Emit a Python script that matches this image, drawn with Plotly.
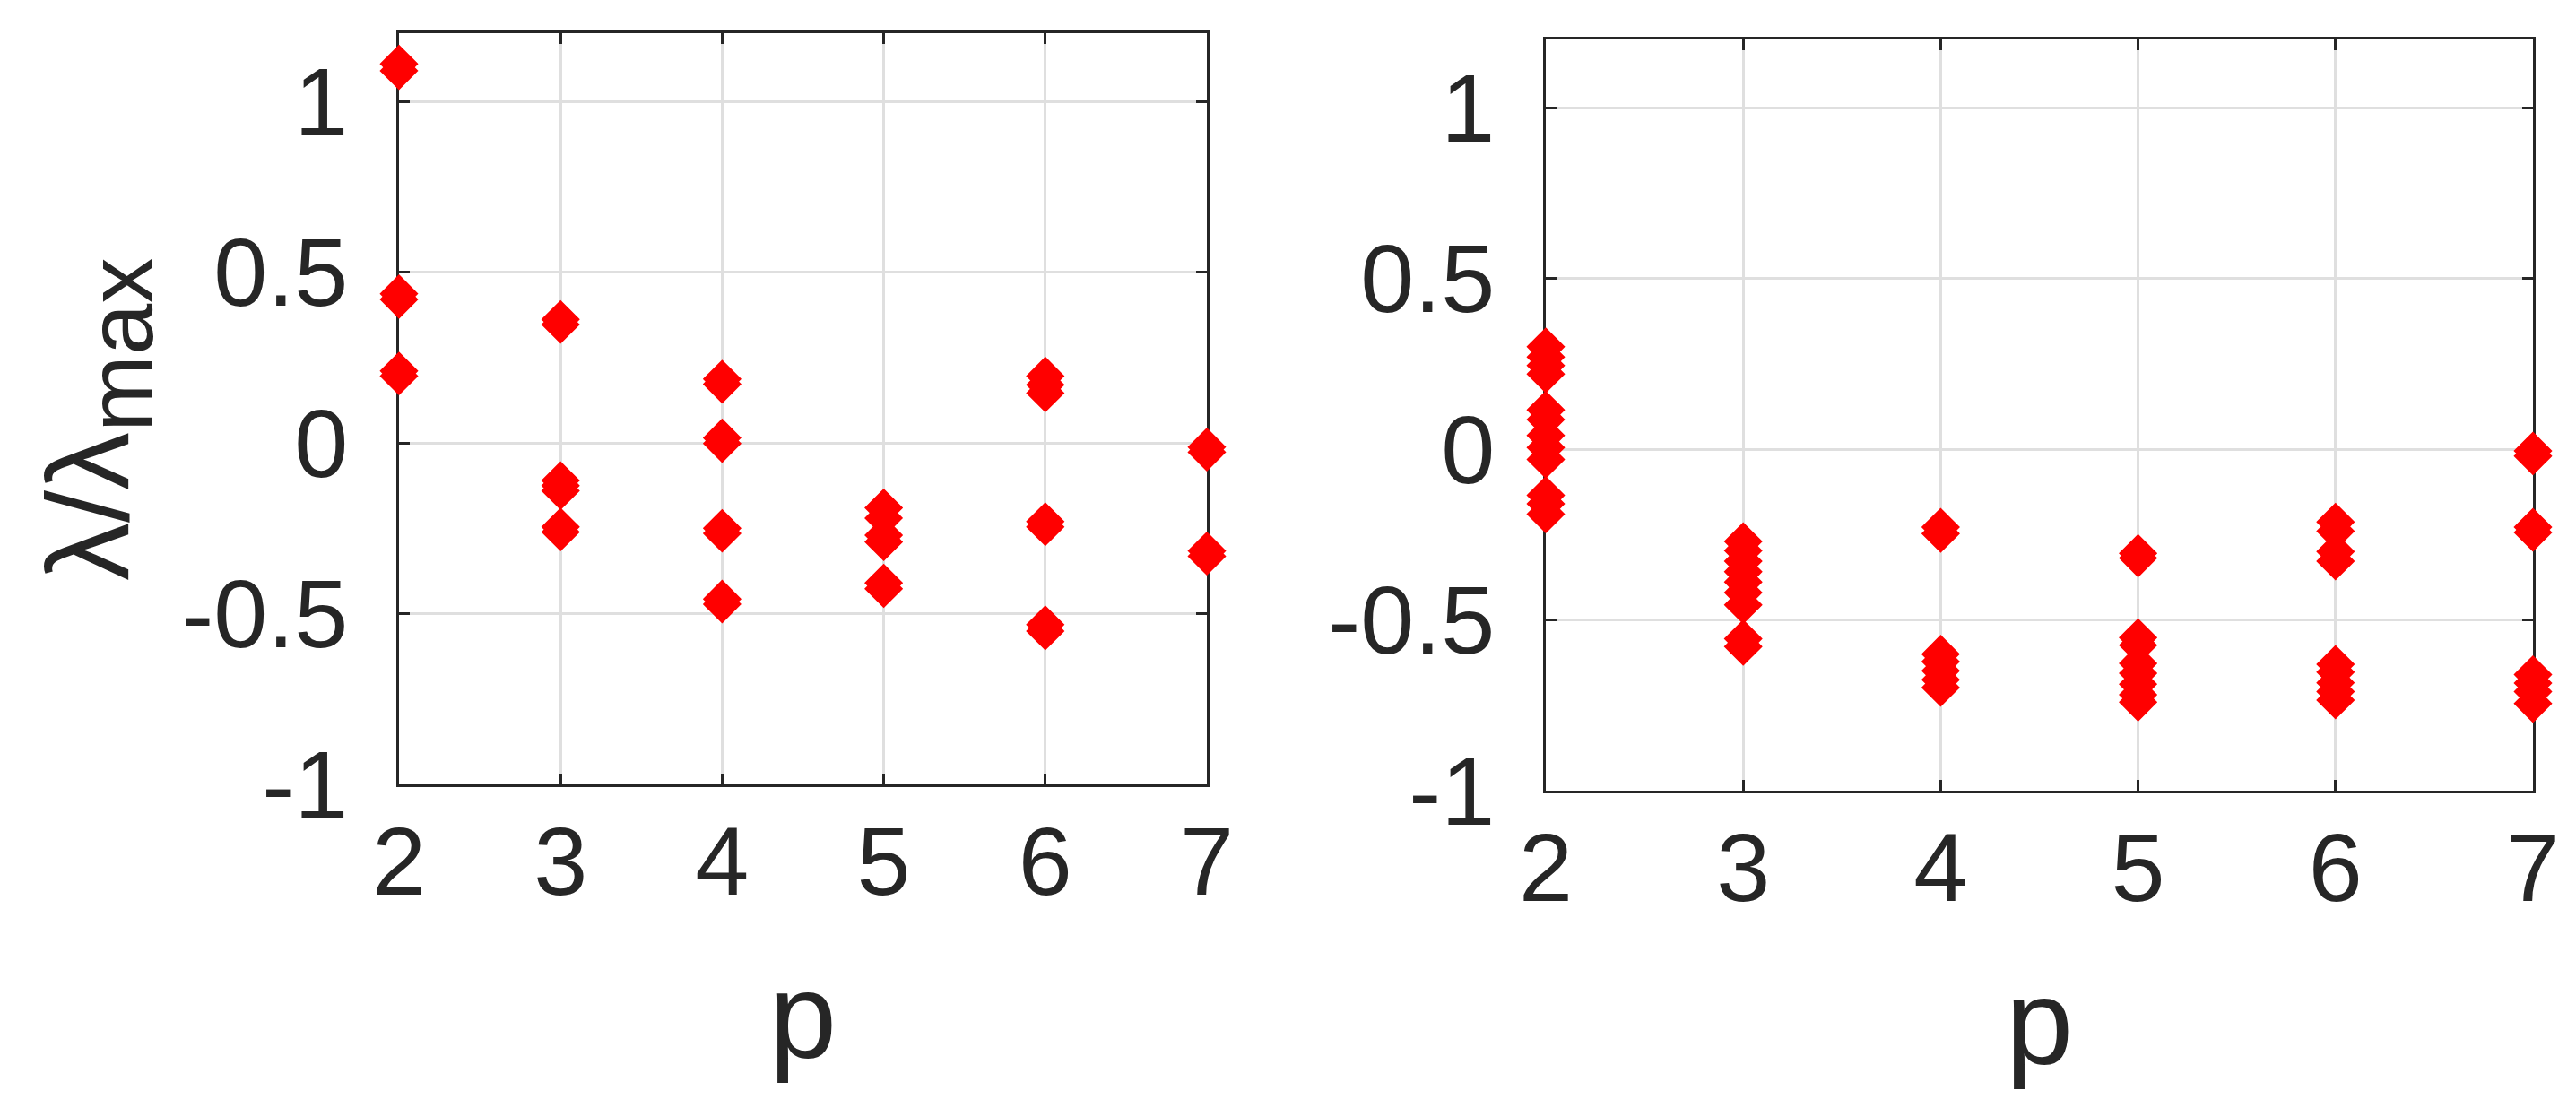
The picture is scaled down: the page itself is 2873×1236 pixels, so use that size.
import plotly.graph_objects as go

# ---- data ----
p_left = [2, 2, 2, 2, 2, 2,
          3, 3, 3, 3, 3, 3, 3,
          4, 4, 4, 4, 4, 4, 4, 4,
          5, 5, 5, 5, 5, 5,
          6, 6, 6, 6, 6, 6, 6,
          7, 7, 7, 7]
lam_left = [1.11, 1.09, 0.437, 0.420, 0.211, 0.196,
            0.362, 0.347, -0.11, -0.125, -0.14, -0.246, -0.261,
            0.187, 0.172, 0.015, -0.002, -0.25, -0.265, -0.457, -0.472,
            -0.19, -0.22, -0.27, -0.29, -0.41, -0.427,
            0.196, 0.17, 0.146, -0.23, -0.246, -0.532, -0.551,
            -0.012, -0.027, -0.316, -0.332]

p_right = [2] * 12 + [3] * 9 + [4] * 7 + [5] * 9 + [6] * 9 + [7] * 8
lam_right = [0.30, 0.27, 0.245, 0.22, 0.115, 0.087, 0.04, 0.005, -0.03, -0.135, -0.16, -0.19,
             -0.27, -0.297, -0.328, -0.359, -0.389, -0.42, -0.456, -0.555, -0.578,
             -0.228, -0.247, -0.60, -0.622, -0.649, -0.675, -0.698,
             -0.305, -0.319, -0.552, -0.574, -0.627, -0.656, -0.688, -0.719, -0.741,
             -0.213, -0.24, -0.30, -0.328, -0.630, -0.653, -0.684, -0.71, -0.735,
             -0.005, -0.02, -0.228, -0.244, -0.66, -0.685, -0.71, -0.745]

x_ticks = [2, 3, 4, 5, 6, 7]
y_ticks = [-1, -0.5, 0, 0.5, 1]
y_tick_text = ["-1", "-0.5", "0", "0.5", "1"]

W, H = 2873, 1236
AX = "#262626"
GRID = "#dfdfdf"
NARROW = "Liberation Sans Narrow, Liberation Sans, Arial, sans-serif"
REG = "Liberation Sans, Arial, sans-serif"
TICKSIZE = 108

fig = go.Figure()
marker = dict(symbol="diamond", size=31, color="#ff0000",
              line=dict(color="#ff0000", width=2))
fig.add_trace(go.Scatter(x=p_left, y=lam_left, mode="markers", marker=marker,
                         cliponaxis=False, xaxis="x", yaxis="y", showlegend=False))
fig.add_trace(go.Scatter(x=p_right, y=lam_right, mode="markers", marker=marker,
                         cliponaxis=False, xaxis="x2", yaxis="y2", showlegend=False))

def xax(domain, anchor):
    return dict(domain=domain, anchor=anchor, range=[2, 7], tickvals=x_ticks,
                showgrid=True, gridcolor=GRID, gridwidth=3, zeroline=False,
                showline=True, linecolor=AX, linewidth=3, mirror="allticks",
                ticks="inside", ticklen=12, tickwidth=3, tickcolor=AX,
                tickfont=dict(family=NARROW, size=TICKSIZE, color=AX),
                ticklabelstandoff=-10, layer="below traces", fixedrange=True,
                automargin=False)

def yax(domain, anchor):
    return dict(domain=domain, anchor=anchor, range=[-1, 1.2], tickvals=y_ticks,
                ticktext=y_tick_text,
                showgrid=True, gridcolor=GRID, gridwidth=3, zeroline=False,
                showline=True, linecolor=AX, linewidth=3, mirror="allticks",
                ticks="inside", ticklen=12, tickwidth=3, tickcolor=AX,
                tickfont=dict(family=NARROW, size=TICKSIZE, color=AX),
                ticklabelstandoff=32, layer="below traces", fixedrange=True,
                automargin=False)

fig.update_layout(
    width=W, height=H,
    margin=dict(l=0, r=0, t=0, b=0),
    paper_bgcolor="white", plot_bgcolor="white",
    xaxis=xax([437 / W, 1338 / W], "y"),
    yaxis=yax([1 - 867 / H, 1 - 29 / H], "x"),
    xaxis2=xax([1716 / W, 2817 / W], "y2"),
    yaxis2=yax([1 - 874 / H, 1 - 36 / H], "x2"),
    annotations=[
        dict(text="λ/λ<sub><span style='font-size:103px'>max</span></sub>",
             xref="paper", yref="paper",
             x=100 / W, y=1 - 460 / H, textangle=-90, showarrow=False,
             xanchor="center", yanchor="middle",
             font=dict(family=REG, size=130, color=AX)),
        dict(text="p", xref="paper", yref="paper",
             x=(437 + 1338) / 2 / W, y=1 - 1125 / H, showarrow=False,
             xanchor="center", yanchor="middle",
             font=dict(family=NARROW, size=135, color=AX)),
        dict(text="p", xref="paper", yref="paper",
             x=(1716 + 2817) / 2 / W, y=1 - 1132 / H, showarrow=False,
             xanchor="center", yanchor="middle",
             font=dict(family=NARROW, size=135, color=AX)),
    ],
)

fig.write_html("out.html")
